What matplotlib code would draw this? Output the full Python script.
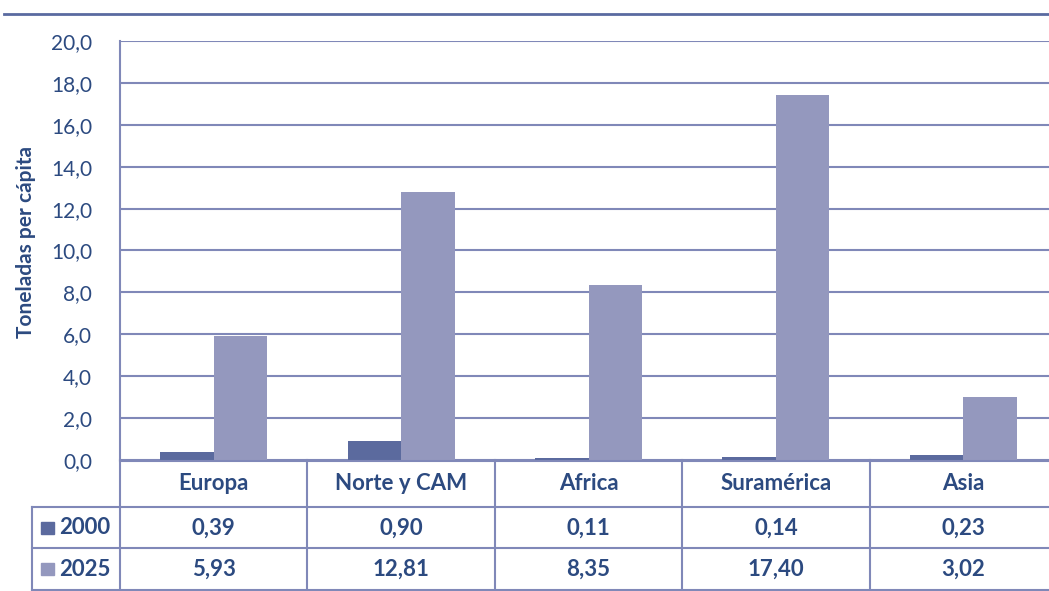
import matplotlib
matplotlib.use("Agg")
import matplotlib.pyplot as plt
import numpy as np

categories = ["Europa", "Norte y CAM", "Africa", "Suramérica", "Asia"]
series_names = ["2000", "2025"]
values_2000 = [0.39, 0.90, 0.11, 0.14, 0.23]
values_2025 = [5.93, 12.81, 8.35, 17.40, 3.02]
labels_2000 = ["0,39", "0,90", "0,11", "0,14", "0,23"]
labels_2025 = ["5,93", "12,81", "8,35", "17,40", "3,02"]
yticks = [0, 2, 4, 6, 8, 10, 12, 14, 16, 18, 20]
ytick_labels = ["0,0", "2,0", "4,0", "6,0", "8,0", "10,0", "12,0", "14,0", "16,0", "18,0", "20,0"]

TXT = "#2c4a80"
GRID = "#8088b8"
C2000 = "#5b6a9e"
C2025 = "#9498be"
FONT = ["Lato", "DejaVu Sans"]
plt.rcParams["font.family"] = FONT

W, H = 1049, 591
fig = plt.figure(figsize=(W / 100, H / 100), dpi=100)

def fx(px):
    return px / W

def fy(py):
    return 1 - py / H

x_left, x_right = 120, 1057
y_top, y_bot = 41, 460
ax = fig.add_axes([fx(x_left), fy(y_bot), fx(x_right - x_left), (y_bot - y_top) / H])

x = np.arange(len(categories))
bw = 0.285
ax.bar(x - bw / 2, values_2000, bw, color=C2000, zorder=3)
ax.bar(x + bw / 2, values_2025, bw, color=C2025, zorder=3)
ax.set_xlim(-0.5, len(categories) - 0.5)
ax.set_ylim(0, 20)
ax.set_yticks(yticks)
ax.set_yticklabels(ytick_labels, fontsize=15, color=TXT)
ax.tick_params(axis="y", length=0, pad=20)
ax.set_xticks([])
ax.grid(axis="y", color=GRID, linewidth=1.5, zorder=0)
for s in ["top", "right", "bottom"]:
    ax.spines[s].set_visible(False)
ax.spines["left"].set_color(GRID)
ax.spines["left"].set_linewidth(1.5)
ax.set_ylabel("Toneladas per cápita", fontsize=15, fontweight="bold", color=TXT)
ax.yaxis.set_label_coords(-(120 - 26) / (x_right - x_left), 0.52)
ax.yaxis.label.set_va("center")

# table axes
t_left, t_right = 32, 1057
tax = fig.add_axes([fx(t_left), 0, fx(t_right - t_left), fy(460)])
tax.set_xlim(t_left, t_right)
tax.set_ylim(H, 460)
tax.axis("off")
col_w = (x_right - x_left) / len(categories)
lw = 1.5
tax.plot([x_left, t_right], [461, 461], color=GRID, lw=lw, clip_on=False)
for yy in [507, 548, 589.5]:
    tax.plot([t_left, t_right], [yy, yy], color=GRID, lw=lw, clip_on=False)
tax.plot([t_left, t_left], [507, 590], color=GRID, lw=lw, clip_on=False)
for i in range(len(categories) + 1):
    xx = x_left + i * col_w
    tax.plot([xx, xx], [460, 591], color=GRID, lw=lw, clip_on=False)
fs = 16
for i, cat in enumerate(categories):
    cx = x_left + (i + 0.5) * col_w
    tax.text(cx, 484, cat, ha="center", va="center", fontsize=fs, fontweight="bold", color=TXT)
    tax.text(cx, 528, labels_2000[i], ha="center", va="center", fontsize=fs, fontweight="bold", color=TXT)
    tax.text(cx, 569, labels_2025[i], ha="center", va="center", fontsize=fs, fontweight="bold", color=TXT)
for name, col, yy in [(series_names[0], C2000, 528), (series_names[1], C2025, 569)]:
    tax.add_patch(plt.Rectangle((41, yy - 6), 13, 12, color=col, clip_on=False))
    tax.text(59, yy, name, ha="left", va="center", fontsize=fs, fontweight="bold", color=TXT)

fig.add_artist(plt.Line2D([fx(4), 1], [fy(14), fy(14)], color="#5a6aa0", lw=2))

fig.savefig("out.png", dpi=100)
